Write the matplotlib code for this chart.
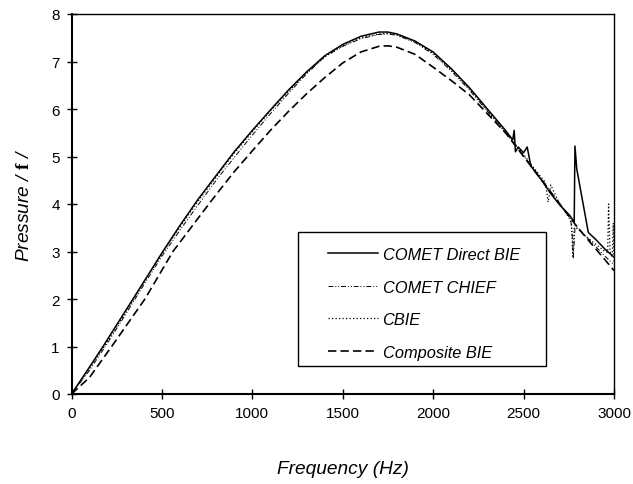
import matplotlib
matplotlib.use('Agg')
import matplotlib.pyplot as plt
from matplotlib.patches import Rectangle

plt.rcParams['font.family'] = ['Liberation Sans', 'DejaVu Sans']
plt.rcParams['mathtext.fontset'] = 'custom'
plt.rcParams['mathtext.bf'] = 'Liberation Serif:bold'
plt.rcParams['mathtext.rm'] = 'Liberation Sans'
plt.rcParams['mathtext.it'] = 'Liberation Sans:italic'

# Donnees (frequence en Hz, pression)
freq_direct = [0, 100, 174, 340, 505, 600, 700, 800, 900, 1000, 1100, 1200, 1300, 1400,
               1500, 1600, 1700, 1750, 1800, 1900, 2000, 2100, 2200, 2300, 2400, 2440,
               2448, 2455, 2470, 2500, 2520, 2540, 2600, 2650, 2700, 2757, 2780, 2784,
               2794, 2858, 2900, 2950, 3000]
p_direct = [0, 0.57, 1.0, 2.0, 3.0, 3.55, 4.1, 4.6, 5.1, 5.55, 5.98, 6.4, 6.78, 7.12,
            7.36, 7.53, 7.62, 7.62, 7.58, 7.43, 7.2, 6.85, 6.45, 6.0, 5.55, 5.35,
            5.55, 5.1, 5.2, 5.08, 5.2, 4.8, 4.5, 4.22, 3.98, 3.75, 3.62, 5.22,
            4.74, 3.4, 3.25, 3.05, 2.88]

freq_chief = [0, 100, 200, 300, 400, 500, 600, 700, 800, 900, 1000, 1100, 1200, 1300,
              1400, 1500, 1600, 1700, 1750, 1800, 1900, 2000, 2100, 2200, 2300, 2400,
              2500, 2600, 2700, 2760, 2770, 2775, 2785, 2800, 2850, 2900, 2950, 3000]
p_chief = [0, 0.5, 1.08, 1.68, 2.3, 2.9, 3.45, 3.98, 4.5, 4.98, 5.45, 5.9, 6.33, 6.74,
           7.1, 7.32, 7.48, 7.57, 7.58, 7.55, 7.4, 7.15, 6.8, 6.4, 5.95, 5.5,
           5.02, 4.52, 4.0, 3.7, 3.3, 2.85, 3.55, 3.5, 3.3, 3.1, 2.9, 2.72]

freq_cbie = [0, 100, 200, 300, 400, 500, 600, 700, 800, 900, 1000, 1100, 1200, 1300,
             1400, 1500, 1600, 1700, 1750, 1800, 1900, 2000, 2100, 2200, 2300, 2400,
             2500, 2600, 2620, 2636, 2650, 2700, 2750, 2765, 2772, 2780, 2800, 2850,
             2900, 2950, 2965, 2970, 2978, 2990, 2996, 3000]
p_cbie = [0, 0.54, 1.12, 1.72, 2.35, 2.95, 3.52, 4.06, 4.57, 5.07, 5.52, 5.96, 6.37, 6.76,
          7.1, 7.33, 7.5, 7.58, 7.59, 7.56, 7.42, 7.17, 6.83, 6.43, 5.97, 5.52,
          5.04, 4.55, 4.46, 4.04, 4.4, 4.0, 3.72, 3.6, 2.9, 3.5, 3.48, 3.3,
          3.15, 3.0, 2.98, 4.0, 3.0, 2.88, 3.6, 2.78]

freq_comp = [0, 100, 222, 406, 561, 700, 800, 900, 1000, 1100, 1200, 1300, 1400, 1500,
             1600, 1700, 1750, 1800, 1900, 2000, 2100, 2200, 2300, 2400, 2500, 2600,
             2700, 2800, 2900, 3000]
p_comp = [0, 0.35, 1.0, 2.0, 3.0, 3.7, 4.2, 4.68, 5.12, 5.55, 5.95, 6.32, 6.66, 6.97,
          7.2, 7.32, 7.33, 7.3, 7.15, 6.88, 6.6, 6.3, 5.9, 5.5, 5.0, 4.5,
          4.0, 3.5, 3.05, 2.6]

labels = ['COMET Direct BIE', 'COMET CHIEF', 'CBIE', 'Composite BIE']
xticks = [0, 500, 1000, 1500, 2000, 2500, 3000]
yticks = [0, 1, 2, 3, 4, 5, 6, 7, 8]

fig = plt.figure(figsize=(6.33, 4.85), dpi=100)
ax = fig.add_axes([71.5 / 633, 1 - 395 / 485, (614 - 71.5) / 633, 380 / 485])

ax.plot(freq_direct, p_direct, color='black', lw=1.1, linestyle='-', label=labels[0])
ax.plot(freq_chief, p_chief, color='black', lw=0.7, linestyle=(0, (5, 2, 1, 2, 1, 2)), label=labels[1])
ax.plot(freq_cbie, p_cbie, color='black', lw=0.9, linestyle=(0, (1, 1.8)), label=labels[2])
ax.plot(freq_comp, p_comp, color='black', lw=1.2, linestyle=(0, (5, 2.5)), label=labels[3])

ax.set_xlim(0, 3000)
ax.set_ylim(0, 8)
ax.set_xticks(xticks)
ax.set_yticks(yticks)
ax.tick_params(direction='inout', length=7, width=1, labelsize=11, pad=5, color='black')

for side in ['left', 'bottom']:
    ax.spines[side].set_linewidth(1.5)
for side in ['top', 'right']:
    ax.spines[side].set_linewidth(1.0)

ax.set_xlabel('Frequency (Hz)', fontsize=13.8, style='italic', labelpad=29)
ax.set_ylabel(r'Pressure / $\mathbf{f}$ /', fontsize=13.8, style='italic', labelpad=13)

# cadre de la legende
ax.add_patch(Rectangle((0.418, 0.074), 0.457, 0.352, transform=ax.transAxes,
                       fill=False, edgecolor='black', lw=1.0, zorder=5))
leg = ax.legend(loc='upper left', bbox_to_anchor=(0.457, 0.408), frameon=False,
                borderpad=0, handlelength=3.05, handletextpad=0.3, labelspacing=1.07,
                prop={'size': 11.8, 'style': 'italic'})

fig.savefig('out.png', dpi=100)
